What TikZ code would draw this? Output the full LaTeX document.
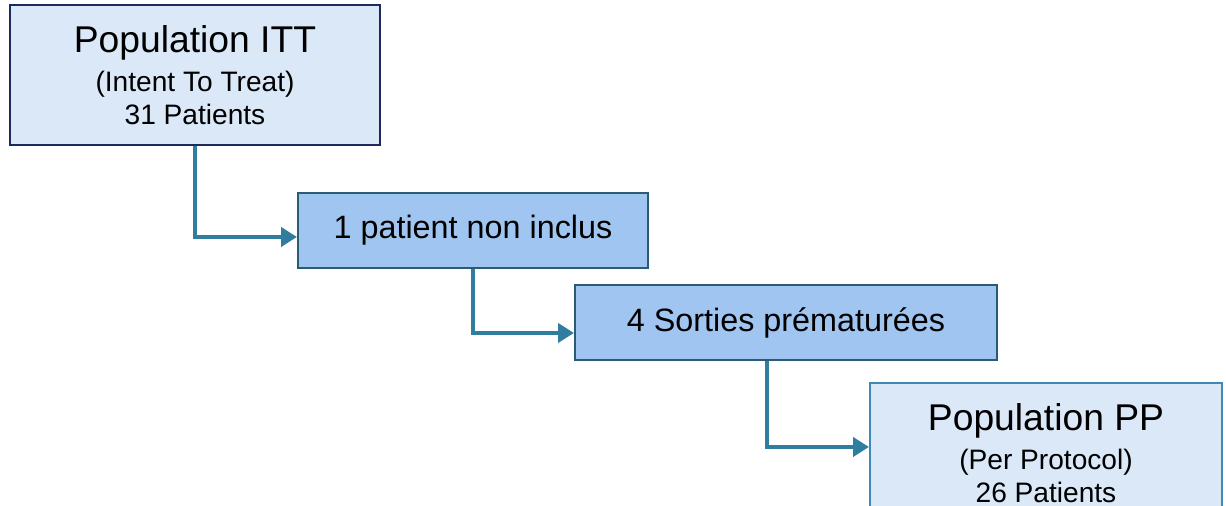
\documentclass[tikz,border=0pt]{standalone}
\usepackage{fontspec}
\setmainfont{Liberation Sans}
\usetikzlibrary{arrows.meta}
\definecolor{pale}{RGB}{218, 232, 248}
\definecolor{mid}{RGB}{160, 197, 240}
\definecolor{navy}{RGB}{28, 42, 94}
\definecolor{slate}{RGB}{44, 92, 116}
\definecolor{steel}{RGB}{64, 136, 181}
\definecolor{flowc}{RGB}{47, 126, 160}
\tikzset{
  popbox/.style={draw, line width=0.02cm, fill=pale, minimum width=3.70cm,
    minimum height=1.40cm, align=center, inner sep=0pt,
    font=\fontsize{8pt}{9.4pt}\selectfont},
  lossbox/.style={draw=slate, line width=0.02cm, fill=mid, minimum height=0.75cm,
    align=center, inner sep=0pt, font=\fontsize{9.2pt}{11pt}\selectfont},
  flow/.style={draw=flowc, line width=0.045cm,
    -{Triangle[length=0.16cm, width=0.19cm]}},
}
\newcommand{\bigline}[1]{{\fontsize{10.6pt}{12pt}\selectfont #1}}
\begin{document}
\begin{tikzpicture}
      \useasboundingbox (0, 0) rectangle (12.26, 5.06);
      \node[popbox, draw=navy](itt) at (1.95, 4.31)
        {\bigline{Population ITT}\\[1.6pt](Intent To Treat)\\31 Patients};
      \node[lossbox, minimum width=3.50cm](excl) at (4.73, 2.755) {1 patient non inclus};
      \node[lossbox, minimum width=4.22cm](drop) at (7.86, 1.835) {4 Sorties prématurées};
      \node[popbox, draw=steel, minimum width=3.52cm](pp) at (10.46, 0.53)
        {\bigline{Population PP}\\[1.6pt](Per Protocol)\\26 Patients};
      \draw[flow] (itt.south) |- ([yshift=-0.065cm]excl.west);
      \draw[flow] (excl.south) |- ([yshift=-0.105cm]drop.west);
      \draw[flow] ([xshift=-0.19cm]drop.south) |- ([yshift=0.06cm]pp.west);
    \end{tikzpicture}
\end{document}
